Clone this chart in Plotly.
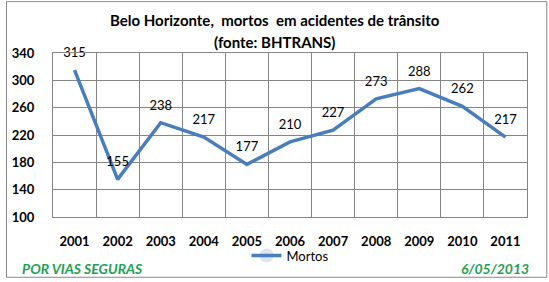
import plotly.graph_objects as go

years = ["2001", "2002", "2003", "2004", "2005", "2006", "2007", "2008", "2009", "2010", "2011"]
mortos = [315, 155, 238, 217, 177, 210, 227, 273, 288, 262, 217]
y_ticks = [100, 140, 180, 220, 260, 300, 340]

FONT = "Lato"
H = 166.0
W = 479.0
fig = go.Figure()
fig.add_trace(go.Scatter(
    x=years, y=mortos, mode="lines+markers+text", name="Mortos",
    line=dict(color="#4A7EBB", width=3.5),
    marker=dict(size=14, opacity=0, color="#4A7EBB"),
    text=[str(v) for v in mortos], textposition="top center",
    textfont=dict(family=FONT, size=13, color="black"),
    cliponaxis=False,
))

fig.update_layout(
    width=549, height=282,
    margin=dict(l=48, r=22, t=53, b=63),
    paper_bgcolor="white", plot_bgcolor="white",
    showlegend=True,
    legend=dict(orientation="h", x=0.5, xanchor="center", y=(219 - 258) / H, yanchor="middle",
                font=dict(family=FONT, size=13, color="black"), bgcolor="rgba(0,0,0,0)"),
    xaxis=dict(type="category", range=[-0.5, len(years) - 0.5], tickson="boundaries",
               showgrid=True, gridcolor="#868686", gridwidth=1,
               showline=True, linecolor="#868686", mirror=True, ticks="", ticklabelstandoff=12,
               tickfont=dict(family=FONT, size=13, color="black", weight="bold")),
    yaxis=dict(range=[100, 340], tickvals=y_ticks, showgrid=True, gridcolor="#868686", gridwidth=1,
               showline=True, linecolor="#868686", mirror=True, ticks="", ticklabelstandoff=15,
               zeroline=False, tickfont=dict(family=FONT, size=13, color="black", weight="bold")),
)

fig.add_annotation(text="<b>Belo Horizonte,&nbsp; mortos&nbsp; em acidentes de trânsito</b>",
                   xref="paper", yref="paper", x=(272 - 48) / W, xanchor="center",
                   y=(219 - 20) / H, yanchor="middle", showarrow=False,
                   font=dict(family=FONT, size=15, color="black"))
fig.add_annotation(text="<b>(fonte: BHTRANS)</b>",
                   xref="paper", yref="paper", x=(272 - 48) / W, xanchor="center",
                   y=(219 - 42) / H, yanchor="middle", showarrow=False,
                   font=dict(family=FONT, size=15, color="black"))
fig.add_annotation(text="<b><i>POR VIAS SEGURAS</i></b>", xref="paper", yref="paper",
                   x=(15 - 48) / W, xanchor="left", y=(219 - 271) / H, yanchor="middle", showarrow=False,
                   font=dict(family=FONT, size=14, color="#1FA055"))
fig.add_annotation(text="<b><i>6/05/2013</i></b>", xref="paper", yref="paper",
                   x=(531 - 48) / W, xanchor="right", y=(219 - 271) / H, yanchor="middle", showarrow=False,
                   font=dict(family=FONT, size=14, color="#1FA055"))
fig.add_shape(type="rect", xref="paper", yref="paper", x0=-47 / W, x1=1 + 20 / W, y0=-61 / H, y1=1 + 52 / H,
              line=dict(color="#888888", width=1), fillcolor="rgba(0,0,0,0)", layer="below")
fig.write_html("out.html")
